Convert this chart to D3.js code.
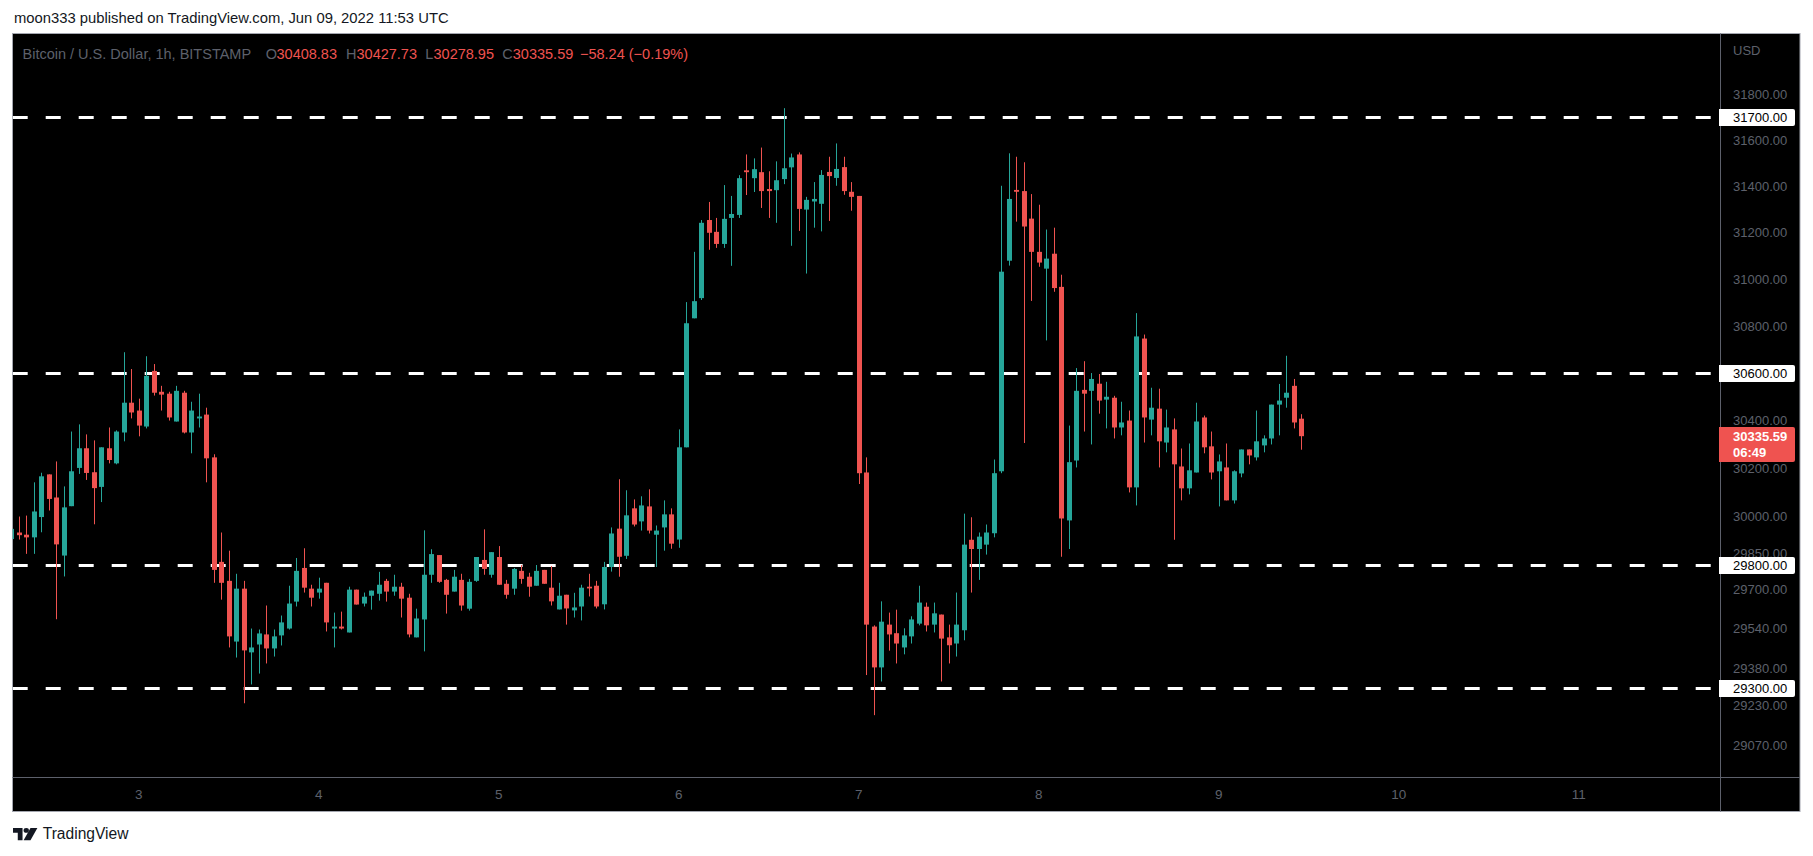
<!DOCTYPE html>
<html>
<head>
<meta charset="utf-8">
<script src="https://cdn.jsdelivr.net/npm/d3@7"></script>
<style>
  html, body { margin: 0; padding: 0; background: #fff; }
  svg { display: block; }
  text { font-family: "Liberation Sans", Arial, sans-serif; }
</style>
</head>
<body>
<svg class="chart" width="1813" height="856"></svg>
<script>
// hourly candles, BTC/USD Bitstamp, first candle Jun 2 2022 07:00 UTC
const FIRST_CANDLE = Date.UTC(2022, 5, 2, 7)

const opens = [
  29908, 29935, 29926, 29915, 29999, 30176, 30080, 29840, 30044, 30203, 30285, 30185, 30124, 30285, 30222, 30351, 30476, 30443, 30376, 30610,
  30522, 30514, 30397, 30518, 30351, 30410, 30426, 30247, 29814, 29736, 29488, 29704, 29444, 29476, 29517, 29460, 29513, 29541, 29651, 29789,
  29704, 29688, 29728, 29541, 29549, 29525, 29700, 29643, 29675, 29683, 29736, 29692, 29712, 29667, 29505, 29578, 29761, 29842, 29740, 29692,
  29740, 29622, 29736, 29822, 29761, 29834, 29724, 29704, 29777, 29753, 29716, 29781, 29708, 29619, 29679, 29615, 29631, 29712, 29716, 29640,
  29793, 29951, 29839, 30035, 29981, 30043, 29926, 29956, 30010, 29906, 30289, 30833, 30919, 31254, 31203, 31151, 31263, 31276, 31469, 31435,
  31461, 31388, 31383, 31431, 31482, 31538, 31299, 31334, 31324, 31462, 31436, 31483, 31376, 31358, 30184, 29549, 29383, 29557, 29522, 29464,
  29509, 29561, 29630, 29557, 29598, 29505, 29480, 29534, 29905, 29867, 29885, 29932, 30189, 31079, 31384, 31379, 31260, 31117, 31045, 31109,
  30967, 29985, 30234, 30530, 30526, 30556, 30489, 30497, 30372, 30401, 30122, 30747, 30405, 30451, 30309, 30364, 30209, 30118, 30184, 30414,
  30293, 30189, 30205, 30068, 30180, 30280, 30247, 30297, 30326, 30468, 30497, 30547, 30408.83
]
const highs = [
  29955, 30001, 30005, 30143, 30183, 30176, 30230, 30126, 30355, 30385, 30343, 30318, 30289, 30372, 30360, 30689, 30618, 30493, 30672, 30639,
  30547, 30522, 30547, 30526, 30480, 30514, 30455, 30260, 29935, 29860, 29765, 29736, 29541, 29537, 29635, 29537, 29594, 29716, 29830, 29870,
  29720, 29749, 29728, 29606, 29610, 29712, 29700, 29688, 29696, 29773, 29744, 29761, 29728, 29683, 29622, 29944, 29866, 29842, 29744, 29781,
  29765, 29744, 29834, 29948, 29854, 29879, 29740, 29789, 29801, 29769, 29801, 29781, 29797, 29728, 29679, 29687, 29720, 29765, 29736, 29814,
  29956, 30156, 30110, 30072, 30085, 30114, 29964, 30068, 30035, 30364, 30902, 31117, 31254, 31332, 31263, 31405, 31358, 31448, 31538, 31521,
  31568, 31465, 31508, 31740, 31542, 31547, 31354, 31418, 31470, 31528, 31586, 31528, 31418, 31358, 30247, 29554, 29652, 29606, 29618, 29542,
  29591, 29716, 29647, 29647, 29598, 29557, 29688, 30013, 29998, 29935, 29968, 30238, 31402, 31543, 31528, 31504, 31366, 31320, 31213, 31221,
  31019, 30380, 30622, 30651, 30601, 30597, 30564, 30505, 30480, 30443, 30855, 30764, 30539, 30535, 30447, 30410, 30284, 30305, 30476, 30422,
  30355, 30259, 30305, 30193, 30280, 30280, 30443, 30339, 30468, 30555, 30674, 30576, 30427.73
]
const lows = [
  29900, 29906, 29847, 29847, 29936, 30026, 29579, 29754, 30044, 30178, 30153, 29969, 30061, 30222, 30218, 30314, 30410, 30335, 30368, 30506,
  30443, 30401, 30397, 30347, 30264, 30372, 30143, 29728, 29659, 29464, 29423, 29238, 29314, 29358, 29399, 29427, 29472, 29537, 29631, 29688,
  29631, 29663, 29529, 29464, 29537, 29525, 29639, 29631, 29618, 29655, 29651, 29675, 29586, 29505, 29505, 29448, 29728, 29728, 29602, 29692,
  29614, 29614, 29732, 29761, 29749, 29720, 29663, 29679, 29724, 29671, 29716, 29724, 29635, 29619, 29557, 29586, 29574, 29672, 29623, 29619,
  29774, 29753, 29826, 29960, 29943, 29931, 29793, 29860, 29868, 29872, 30289, 30833, 30911, 31126, 31134, 31134, 31057, 31263, 31362, 31375,
  31306, 31263, 31242, 31409, 31143, 31207, 31024, 31221, 31205, 31250, 31402, 31363, 31294, 30136, 29352, 29190, 29326, 29451, 29399, 29436,
  29480, 29554, 29529, 29525, 29326, 29399, 29427, 29493, 29688, 29740, 29844, 29915, 30181, 31058, 31247, 30307, 30907, 31053, 30739, 30946,
  29835, 29867, 30205, 30355, 30301, 30430, 30368, 30326, 30339, 30101, 30047, 30309, 30339, 30205, 30268, 29905, 30068, 30093, 30184, 30264,
  30155, 30043, 30068, 30055, 30164, 30218, 30234, 30268, 30301, 30339, 30455, 30368, 30278.95
]
const closes = [
  29950, 29924, 29915, 30022, 30168, 30074, 29886, 30039, 30189, 30285, 30182, 30119, 30289, 30236, 30355, 30476, 30435, 30380, 30589, 30518,
  30510, 30414, 30526, 30351, 30443, 30418, 30243, 29781, 29728, 29509, 29704, 29452, 29464, 29521, 29460, 29509, 29566, 29643, 29777, 29708,
  29667, 29704, 29566, 29549, 29541, 29700, 29639, 29671, 29696, 29720, 29692, 29712, 29663, 29517, 29582, 29761, 29846, 29732, 29679, 29753,
  29635, 29732, 29834, 29785, 29854, 29720, 29679, 29785, 29744, 29712, 29777, 29724, 29652, 29675, 29623, 29627, 29708, 29705, 29631, 29793,
  29931, 29835, 30006, 29968, 30047, 29943, 29943, 30010, 29889, 30289, 30812, 30906, 31242, 31199, 31151, 31259, 31280, 31435, 31461, 31474,
  31379, 31379, 31426, 31478, 31525, 31302, 31341, 31345, 31449, 31444, 31475, 31379, 31354, 30181, 29557, 29383, 29569, 29517, 29480, 29513,
  29578, 29647, 29554, 29603, 29500, 29473, 29557, 29885, 29867, 29918, 29935, 30181, 31032, 31345, 31376, 31226, 31117, 31071, 31088, 30962,
  29993, 30227, 30526, 30514, 30576, 30485, 30501, 30372, 30393, 30122, 30756, 30414, 30455, 30314, 30372, 30218, 30118, 30193, 30397, 30289,
  30184, 30230, 30068, 30189, 30280, 30255, 30314, 30326, 30468, 30485, 30518, 30393, 30335.59
]

// horizontal levels drawn by the author
const levels = [31700, 30600, 29800, 29300]
const priceTicks = [31800, 31600, 31400, 31200, 31000, 30800, 30400, 30200, 30000, 29850, 29700, 29540, 29380, 29230, 29070]
const dayTicks = [3, 4, 5, 6, 7, 8, 9, 10, 11]

const lastPrice = 30335.59
const countdown = '06:49'

const UP = '#26a69a'
const DOWN = '#ef5350'
const HOUR = 3600e3

const plot = { left: 12.7, right: 1720, top: 33, bottom: 777 }

const candles = opens.map((o, i) => ({
  t: new Date(FIRST_CANDLE + i * HOUR),
  o, h: highs[i], l: lows[i], c: closes[i]
}))

const svg = d3.select('svg.chart')

// panel
svg.append('rect')
  .attr('x', 12.5).attr('y', 33.5)
  .attr('width', 1787.5).attr('height', 778)
  .attr('fill', '#000')
  .attr('stroke', '#a3a6af')

const x = d3.scaleUtc()
  .domain([new Date(Date.UTC(2022, 5, 3) - 16.81 * HOUR), new Date(Date.UTC(2022, 5, 3) + 210.83 * HOUR)])
  .range([plot.left, plot.right])

const y = d3.scaleLog()
  .domain([28942, 32071])
  .range([plot.bottom, plot.top])

// separators
svg.append('line')
  .attr('x1', plot.right + 0.5).attr('x2', plot.right + 0.5)
  .attr('y1', 33.5).attr('y2', 811.5)
  .attr('stroke', '#5d606b')
svg.append('line')
  .attr('x1', 12.5).attr('x2', 1800)
  .attr('y1', plot.bottom + 0.5).attr('y2', plot.bottom + 0.5)
  .attr('stroke', '#5d606b')

svg.append('clipPath').attr('id', 'plot-clip')
  .append('rect')
  .attr('x', plot.left).attr('y', plot.top)
  .attr('width', plot.right - plot.left).attr('height', plot.bottom - plot.top)

const g = svg.append('g').attr('clip-path', 'url(#plot-clip)')

// dashed levels
g.selectAll('.level')
  .data(levels)
  .enter()
  .append('line')
  .attr('class', 'level')
  .attr('x1', plot.left).attr('x2', plot.right - 2)
  .attr('y1', d => Math.round(y(d)) + 0.5)
  .attr('y2', d => Math.round(y(d)) + 0.5)
  .attr('stroke', '#fff')
  .attr('stroke-width', 3)
  .attr('stroke-dasharray', '15 18')

// wicks
g.selectAll('.wick')
  .data(candles)
  .enter()
  .append('line')
  .attr('class', 'wick')
  .attr('x1', d => Math.round(x(d.t)) + 0.5)
  .attr('x2', d => Math.round(x(d.t)) + 0.5)
  .attr('y1', d => y(d.h))
  .attr('y2', d => y(d.l))
  .attr('stroke', d => d.c >= d.o ? UP : DOWN)
  .attr('stroke-width', 1)

// bodies
g.selectAll('.body')
  .data(candles)
  .enter()
  .append('rect')
  .attr('class', 'body')
  .attr('x', d => Math.round(x(d.t)) - 2)
  .attr('width', 5)
  .attr('y', d => y(Math.max(d.o, d.c)))
  .attr('height', d => Math.max(1, Math.abs(y(d.o) - y(d.c))))
  .attr('fill', d => d.c >= d.o ? UP : DOWN)

// price scale
const axisText = '#5d606b'
svg.append('text')
  .attr('x', 1733).attr('y', 50)
  .attr('dy', '0.35em')
  .attr('fill', axisText)
  .style('font-size', '13px')
  .text('USD')

svg.selectAll('.ptick')
  .data(priceTicks)
  .enter()
  .append('text')
  .attr('class', 'ptick')
  .attr('x', 1733)
  .attr('y', d => y(d))
  .attr('dy', '0.35em')
  .attr('fill', axisText)
  .style('font-size', '13px')
  .text(d => d3.format('.2f')(d))

// level labels
const lvl = svg.selectAll('.lvl')
  .data(levels)
  .enter()
  .append('g')
  .attr('class', 'lvl')
  .attr('transform', d => `translate(1719,${Math.round(y(d)) + 0.5})`)
lvl.append('path')
  .attr('d', 'M0,-8.5 H74 a2,2 0 0 1 2,2 V6.5 a2,2 0 0 1 -2,2 H0 Z')
  .attr('fill', '#fff')
lvl.append('text')
  .attr('x', 14).attr('dy', '0.36em')
  .attr('fill', '#000')
  .style('font-size', '13px')
  .text(d => d3.format('.2f')(d))

// last price label
const ly = y(lastPrice)
const last = svg.append('g')
  .attr('transform', `translate(1719,${Math.round(ly - 9.5)})`)
last.append('path')
  .attr('d', 'M0,0 H74 a2,2 0 0 1 2,2 V33 a2,2 0 0 1 -2,2 H0 Z')
  .attr('fill', DOWN)
last.append('text')
  .attr('x', 14).attr('y', 9.5).attr('dy', '0.35em')
  .attr('fill', '#fff')
  .style('font-size', '13px')
  .style('font-weight', 'bold')
  .text(d3.format('.2f')(lastPrice))
last.append('text')
  .attr('x', 14).attr('y', 25.5).attr('dy', '0.35em')
  .attr('fill', '#fff')
  .style('font-size', '13px')
  .style('font-weight', 'bold')
  .text(countdown)

// time scale
svg.selectAll('.ttick')
  .data(dayTicks)
  .enter()
  .append('text')
  .attr('class', 'ttick')
  .attr('x', d => x(new Date(Date.UTC(2022, 5, d))))
  .attr('y', 794)
  .attr('dy', '0.35em')
  .attr('text-anchor', 'middle')
  .attr('fill', axisText)
  .style('font-size', '13.5px')
  .text(d => d)

// publish line
svg.append('text')
  .attr('x', 14).attr('y', 18.3)
  .attr('dy', '0.35em')
  .attr('fill', '#131722')
  .style('font-size', '14.8px')
  .text('moon333 published on TradingView.com, Jun 09, 2022 11:53 UTC')

// legend, each part placed where the reference has it
const legendParts = [
  { t: 'Bitcoin / U.S. Dollar, 1h, BITSTAMP', c: '#5d606b', x: 22.5 },
  { t: 'O', c: '#5d606b', x: 265.7 }, { t: '30408.83', c: DOWN, x: 276.5 },
  { t: 'H', c: '#5d606b', x: 346 }, { t: '30427.73', c: DOWN, x: 356.5 },
  { t: 'L', c: '#5d606b', x: 425.3 }, { t: '30278.95', c: DOWN, x: 433.5 },
  { t: 'C', c: '#5d606b', x: 502.3 }, { t: '30335.59', c: DOWN, x: 512.8 },
  { t: '\u221258.24 (\u22120.19%)', c: DOWN, x: 580 }
]
svg.selectAll('.legend')
  .data(legendParts)
  .enter()
  .append('text')
  .attr('class', 'legend')
  .attr('x', d => d.x).attr('y', 53.5)
  .attr('dy', '0.35em')
  .attr('fill', d => d.c)
  .style('font-size', '14.5px')
  .text(d => d.t)

// branding
const logo = svg.append('g').attr('transform', 'translate(13,828) scale(1.06,0.95)')
logo.append('path').attr('d', 'M0,0 H9 V13 H4.5 V5 H0 Z').attr('fill', '#131722')
logo.append('circle').attr('cx', 12.5).attr('cy', 2.5).attr('r', 2.5).attr('fill', '#131722')
logo.append('path').attr('d', 'M16.5,0 H23 L16.5,13 H10 Z').attr('fill', '#131722')
svg.append('text')
  .attr('x', 42.7).attr('y', 834)
  .attr('dy', '0.35em')
  .attr('fill', '#131722')
  .style('font-size', '15.6px')
  .text('TradingView')
</script>
</body>
</html>
